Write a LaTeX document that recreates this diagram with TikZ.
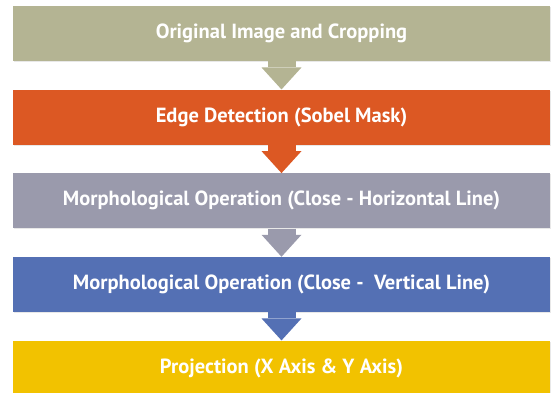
\documentclass[tikz,border=0pt]{standalone}
\usepackage{fontspec}
\setsansfont{PT Sans}
\usetikzlibrary{positioning,arrows.meta,shadows}
\definecolor{khaki}{HTML}{B4B493}
\definecolor{rust}{HTML}{DC5823}
\definecolor{lilac}{HTML}{9A9AAC}
\definecolor{steel}{HTML}{5470B4}
\definecolor{amber}{HTML}{F2C200}
\tikzset{%
  flowbox/.style   = {shape=rectangle, inner sep=0pt,%
                      minimum width=537pt, minimum height=55pt,%
                      text=white, font=\sffamily\bfseries\fontsize{20.5}{22}\selectfont,%
                      drop shadow={opacity=0.18, shadow xshift=1pt, shadow yshift=-1pt}},%
  flowarrow/.style = {line width=28pt,%
                      -{Triangle[width=40pt, length=22pt, line width=0pt]}}%
}

\begin{document}
\begin{tikzpicture}[x=1pt, y=1pt, node distance=28.25pt]
  \useasboundingbox (0,0) rectangle (555,-392);
  \node[flowbox, fill=khaki] (orig) at (281.5,-33.5) {Original Image and Cropping};
  \node[flowbox, fill=rust, below=of orig] (edge) {Edge Detection (Sobel Mask)};
  \node[flowbox, fill=lilac, below=of edge] (hclose) {Morphological Operation (Close - Horizontal Line)};
  \node[flowbox, fill=steel, below=of hclose] (vclose) {Morphological Operation (Close -\ \ Vertical Line)};
  \node[flowbox, fill=amber, below=of vclose] (proj) {Projection (X Axis \& Y Axis)};
  % arrows between the steps
  \draw[flowarrow, khaki] (orig.south) -- (edge.north);
  \draw[flowarrow, rust] (edge.south) -- (hclose.north);
  \draw[flowarrow, lilac] (hclose.south) -- (vclose.north);
  \draw[flowarrow, steel] (vclose.south) -- (proj.north);
\end{tikzpicture}
\end{document}
